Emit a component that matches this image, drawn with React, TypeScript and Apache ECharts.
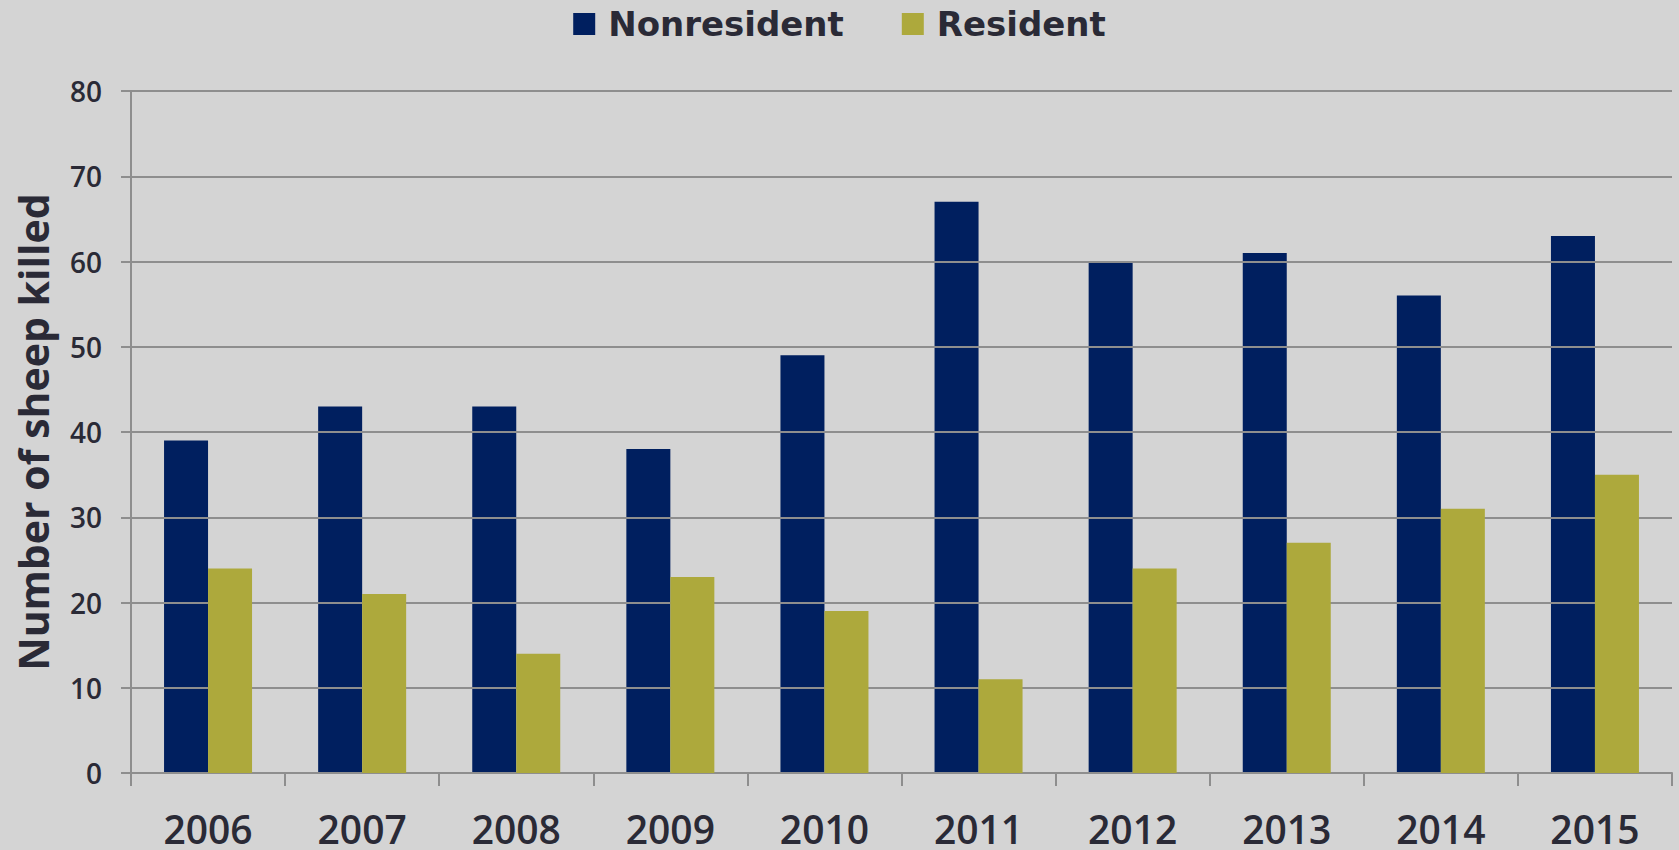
import React, { useEffect, useRef } from "react";
import * as echarts from "echarts";

const years = ["2006", "2007", "2008", "2009", "2010", "2011", "2012", "2013", "2014", "2015"];
const nonresident = [39, 43, 43, 38, 49, 67, 60, 61, 56, 63];
const resident = [24, 21, 14, 23, 19, 11, 24, 27, 31, 35];

const FONT = "Open Sans";
const WIDE = "DejaVu Sans";
const TEXT = "#2a2a36";
const GRID = "#8e8e8e";

export default function App() {
  const ref = useRef<HTMLDivElement>(null);
  useEffect(() => {
    if (!ref.current) return;
    const chart = echarts.init(ref.current, undefined, { renderer: "svg" });
    chart.setOption({
      animation: false,
      backgroundColor: "#d4d4d4",
      textStyle: { fontFamily: FONT },
      legend: {
        top: 2,
        left: "center",
        itemWidth: 22,
        itemHeight: 22,
        itemGap: 58,
        icon: "rect",
        textStyle: { fontSize: 34, fontWeight: "bold", color: TEXT, fontFamily: WIDE, padding: [0, 0, 0, 8] },
        data: ["Nonresident", "Resident"],
      },
      grid: { left: 131, right: 7, top: 91, bottom: 77, containLabel: false, outerBoundsMode: "none" },
      xAxis: {
        type: "category",
        data: years,
        boundaryGap: true,
        axisLine: { lineStyle: { color: GRID, width: 2 } },
        axisTick: { show: true, length: 13, lineStyle: { color: GRID, width: 2 } },
        axisLabel: { fontSize: 39, lineHeight: 34, fontWeight: 600, color: TEXT, fontFamily: FONT, margin: 38 },
        z: 3,
      },
      yAxis: {
        type: "value",
        min: 0,
        max: 80,
        interval: 10,
        name: "Number of sheep killed",
        nameLocation: "middle",
        nameGap: 78,
        nameTextStyle: { fontSize: 41, fontWeight: "bold", color: TEXT, fontFamily: FONT },
        axisLine: { show: true, lineStyle: { color: GRID, width: 2 } },
        axisTick: { show: true, length: 10, lineStyle: { color: GRID, width: 2 } },
        splitLine: { lineStyle: { color: GRID, width: 2 } },
        axisLabel: { fontSize: 28, fontWeight: 600, color: TEXT, fontFamily: FONT, margin: 29 },
        z: 3,
      },
      series: [
        {
          name: "Nonresident",
          type: "bar",
          data: nonresident,
          barWidth: 44,
          barGap: "0%",
          itemStyle: { color: "#001f5f" },
          z: 2,
        },
        {
          name: "Resident",
          type: "bar",
          data: resident,
          barWidth: 44,
          barGap: "0%",
          itemStyle: { color: "#ada93c" },
          z: 4,
        },
      ],
    });
    return () => chart.dispose();
  }, []);
  return (
    <div
      ref={ref}
      style={{ position: "fixed", left: 0, top: 0, width: 1679, height: 850 }}
    />
  );
}
